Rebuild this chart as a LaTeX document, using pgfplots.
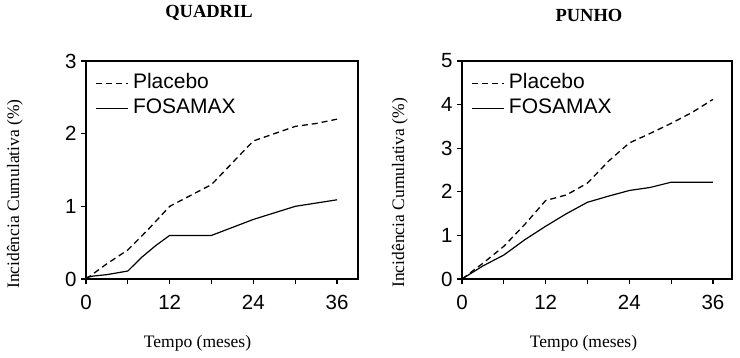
\documentclass[border=0pt]{standalone}
\usepackage{pgfplots}
\pgfplotsset{compat=1.18}
\usepackage{fontspec}
\setmainfont{Liberation Serif}
\setsansfont{Liberation Sans}
\pgfplotsset{
  fos/.style={
    scale only axis, height=218pt,
    xmin=0, ymin=0,
    axis line style={line width=1.3pt},
    xtick={0,6,...,36}, xticklabels={0,,12,,24,,36},
    xtick pos=bottom, ytick pos=left, tick align=outside,
    major tick length=5pt,
    tick style={line width=1.2pt, black},
    /pgf/number format/assume math mode=true,
    ticklabel style={font=\sffamily\fontsize{20.5}{24}\selectfont},
    xticklabel style={yshift=-8pt},
    yticklabel style={xshift=-1pt},
    every axis title shift=0pt,
    title style={font=\bfseries\fontsize{18.5}{22}\selectfont, anchor=center, yshift=0pt},
    label style={font=\fontsize{17.5}{21}\selectfont},
    xlabel style={anchor=center},
    ylabel style={anchor=center, rotate=0},
    legend cell align=left,
    legend style={draw=none, fill=none, anchor=north west,
      font=\sffamily\fontsize{21}{25}\selectfont, row sep=0pt, column sep=3pt,
      inner sep=0pt,
      nodes={text height=16pt, text depth=7pt, inner ysep=1pt, inner xsep=1pt}},
    legend image code/.code={\draw[#1] (0pt,0pt) -- (32pt,0pt);},
  },
  placebo/.style={black, line width=1.3pt, dash pattern=on 6pt off 4pt},
  fosamax/.style={black, line width=1.2pt},
}
\begin{document}
\begin{tikzpicture}[x=1pt,y=1pt]
\path[use as bounding box] (0,0) rectangle (740,357);
\begin{axis}[fos, at={(86pt,78pt)}, anchor=south west,
  width=272pt, xmax=39, ymax=3, ytick={0,1,2,3},
  title={QUADRIL}, title style={at={(0.452,1.22)}},
  xlabel={Tempo (meses)}, xlabel style={at={(0.41,-0.294)}},
  ylabel={Incidência Cumulativa (\%)}, ylabel style={at={(-0.261,0.39)}},
  legend style={at={(0.035,0.955)}}]
\addplot[placebo] coordinates {(0,0) (1,0.07) (3,0.21) (6,0.4) (9,0.69) (12,1.0) (15,1.15) (18,1.3) (21,1.6) (24,1.9) (27,2.0) (30,2.1) (33,2.14) (36,2.2)};
\addlegendentry{Placebo}
\addplot[fosamax] coordinates {(0,0.02) (1,0.04) (3,0.06) (6,0.11) (8,0.3) (10,0.46) (12,0.6) (18,0.6) (24,0.82) (30,1.0) (36,1.09)};
\addlegendentry{FOSAMAX}
\end{axis}
\begin{axis}[fos, at={(462pt,78pt)}, anchor=south west,
  width=270pt, xmax=38.73, ymax=5, ytick={0,1,2,3,4,5},
  title={PUNHO}, title style={at={(0.47,1.21)}},
  xlabel={Tempo (meses)}, xlabel style={at={(0.45,-0.294)}},
  ylabel={Incidência Cumulativa (\%)}, ylabel style={at={(-0.23,0.395)}},
  legend style={at={(0.035,0.955)}}]
\addplot[placebo] coordinates {(0,0) (3,0.36) (6,0.75) (9,1.25) (12,1.8) (15,1.93) (18,2.2) (21,2.7) (24,3.12) (27,3.34) (30,3.57) (33,3.82) (36,4.12)};
\addlegendentry{Placebo}
\addplot[fosamax] coordinates {(0,0) (3,0.3) (6,0.55) (9,0.9) (12,1.21) (15,1.5) (18,1.76) (21,1.9) (24,2.03) (27,2.1) (30,2.22) (36,2.22)};
\addlegendentry{FOSAMAX}
\end{axis}
\end{tikzpicture}
\end{document}
